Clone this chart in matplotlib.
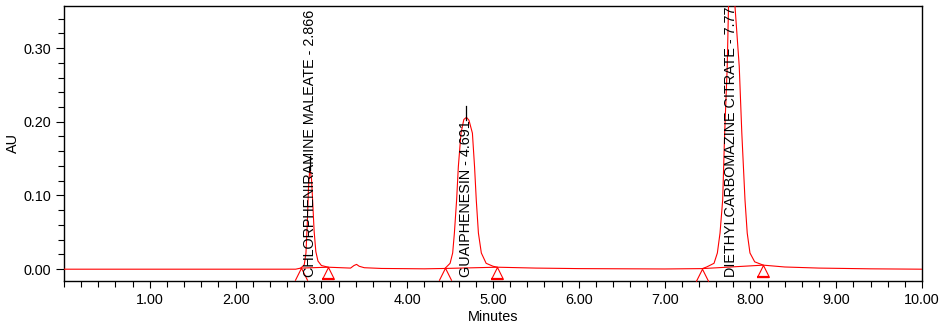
import numpy as np
import matplotlib
matplotlib.use("Agg")
import matplotlib.pyplot as plt
from matplotlib.path import Path
from matplotlib.ticker import MultipleLocator, FormatStrFormatter
from matplotlib.transforms import offset_copy

plt.rcParams['font.family'] = ['Liberation Sans', 'DejaVu Sans']

# detector trace (minutes, AU)
time = [0.00, 2.70, 2.76, 2.80, 2.82, 2.835, 2.85, 2.866, 2.885, 2.90, 2.915, 2.935, 2.96, 3.00, 3.08,
        3.34, 3.38, 3.41, 3.44, 3.50, 3.70, 4.20,
        4.44, 4.50, 4.53, 4.55, 4.576, 4.596, 4.627, 4.66, 4.691, 4.72, 4.76, 4.785, 4.805, 4.83,
        4.864, 4.92, 5.00, 5.05, 5.50, 6.00, 7.00,
        7.44, 7.49, 7.576, 7.615, 7.646, 7.677, 7.70, 7.73, 7.745, 7.77, 7.795, 7.82, 7.87, 7.90,
        7.937, 7.963, 7.995, 8.05, 8.15, 8.40, 8.80, 9.40, 10.00]
au = [0.000, 0.000, 0.0015, 0.006, 0.022, 0.060, 0.112, 0.138, 0.122, 0.088, 0.052, 0.024, 0.011, 0.005, 0.0027,
      0.0015, 0.005, 0.0065, 0.004, 0.002, 0.001, 0.0005,
      0.001, 0.008, 0.022, 0.049, 0.094, 0.139, 0.1845, 0.203, 0.206, 0.202, 0.1845, 0.139, 0.094, 0.049,
      0.022, 0.008, 0.004, 0.0027, 0.0015, 0.0008, 0.0003,
      0.0008, 0.003, 0.008, 0.022, 0.049, 0.094, 0.1845, 0.275, 0.357, 0.410, 0.395, 0.357, 0.275, 0.1845,
      0.094, 0.049, 0.022, 0.010, 0.0055, 0.003, 0.0015, 0.0005, 0.000]

# integrated peaks
peak_names = ['CHLORPHENIRAMINE MALEATE', 'GUAIPHENESIN', 'DIETHYLCARBOMAZINE CITRATE']
peak_rt = [2.866, 4.691, 7.77]
peak_rt_text = ['2.866', '4.691', '7.77']
peak_start = [2.76, 4.44, 7.44]
peak_end = [3.08, 5.05, 8.15]

fig = plt.figure(figsize=(9.51, 3.27), dpi=100)
ax = fig.add_axes([0.0673, 0.1407, 0.9022, 0.841])

ax.plot(time, au, color='red', lw=0.8, zorder=3)

start_au = np.interp(peak_start, time, au)
end_au = np.interp(peak_end, time, au)
apex_au = np.interp(peak_rt, time, au)

# integration baselines
for t0, t1, y0, y1 in zip(peak_start, peak_end, start_au, end_au):
    ax.plot([t0, t1], [y0, y1], color='red', lw=0.8, zorder=3)

# start / end markers hanging below the baseline
open_tri = Path([(-1, -1), (0, 1), (1, -1)], [Path.MOVETO, Path.LINETO, Path.LINETO])
mid = offset_copy(ax.transData, fig=fig, y=-4.3, units='points')
low = offset_copy(ax.transData, fig=fig, y=-8.6, units='points')
ax.plot(peak_start, start_au, ls='none', marker=open_tri, ms=9, mfc='none', mec='red',
        mew=0.8, transform=mid, zorder=4, clip_on=False)
ax.plot(peak_end, end_au, ls='none', marker='^', ms=9, mfc='none', mec='red',
        mew=0.8, transform=mid, zorder=4, clip_on=False)
ax.plot(peak_end, end_au, ls='none', marker='_', ms=9, mec='red', mew=1.6,
        transform=low, zorder=4, clip_on=False)

# apex ticks and peak labels
for name, rt, rt_txt, h in zip(peak_names, peak_rt, peak_rt_text, apex_au):
    ax.plot([rt, rt], [h - 0.004, h + 0.016], color='black', lw=0.9, zorder=5)
    ax.text(rt, -0.011, f'{name} - {rt_txt}', rotation=90, ha='center', va='bottom',
            fontsize=10.4, color='black', zorder=6)

ax.set_xlim(0, 10)
ax.set_ylim(-0.016, 0.357)
ax.xaxis.set_major_locator(MultipleLocator(1))
ax.xaxis.set_minor_locator(MultipleLocator(0.2))
ax.yaxis.set_major_locator(MultipleLocator(0.1))
ax.yaxis.set_minor_locator(MultipleLocator(0.02))
ax.xaxis.set_major_formatter(FormatStrFormatter('%.2f'))
ax.yaxis.set_major_formatter(FormatStrFormatter('%.2f'))
ax.set_xticks([1, 2, 3, 4, 5, 6, 7, 8, 9, 10])
ax.tick_params(which='major', direction='out', length=6, width=0.8, labelsize=10.4)
ax.tick_params(which='minor', direction='out', length=4, width=0.8)
ax.tick_params(axis='x', which='major', length=5)
for s in ax.spines.values():
    s.set_linewidth(1.0)

ax.set_xlabel('Minutes', fontsize=10.4)
ax.set_ylabel('AU', fontsize=10.4)
ax.xaxis.set_label_coords(0.5, -0.105)
ax.yaxis.set_label_coords(-0.051, 0.5)

fig.savefig('out.png', dpi=100)
